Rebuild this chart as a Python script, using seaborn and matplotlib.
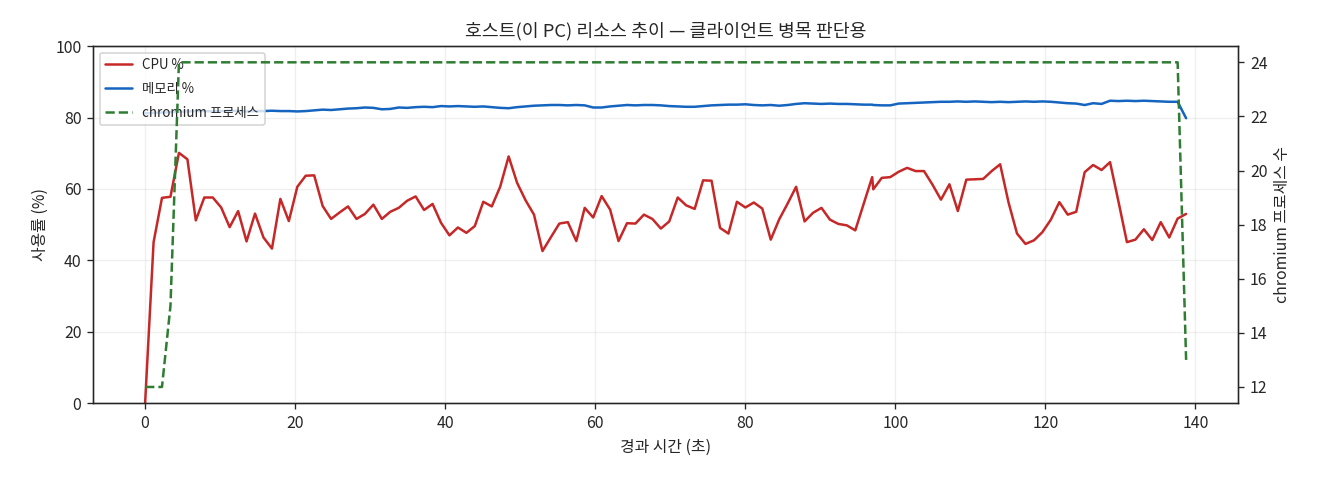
import matplotlib
matplotlib.use("Agg")
import matplotlib.pyplot as plt
import seaborn as sns

# 경과 시간 (초)
elapsed_s = [
    0.00, 1.13, 2.25, 3.38, 4.51, 5.64, 6.76, 7.89, 9.02, 10.14,
    11.27, 12.40, 13.52, 14.65, 15.78, 16.91, 18.03, 19.16, 20.29, 21.41,
    22.54, 23.67, 24.79, 25.92, 27.05, 28.18, 29.30, 30.43, 31.56, 32.68,
    33.81, 34.94, 36.06, 37.19, 38.32, 39.45, 40.57, 41.70, 42.83, 43.95,
    45.08, 46.21, 47.33, 48.46, 49.59, 50.72, 51.84, 52.97, 54.10, 55.22,
    56.35, 57.48, 58.60, 59.73, 60.86, 61.99, 63.11, 64.24, 65.37, 66.49,
    67.62, 68.75, 69.87, 71.00, 72.13, 73.26, 74.38, 75.51, 76.64, 77.76,
    78.89, 80.02, 81.14, 82.27, 83.40, 84.53, 85.65, 86.78, 87.91, 89.03,
    90.16, 91.29, 92.41, 93.54, 94.67, 95.80, 96.92, 97.07, 98.20, 99.33,
    100.45, 101.58, 102.71, 103.83, 104.96, 106.09, 107.22, 108.34, 109.47, 110.60,
    111.72, 112.85, 113.98, 115.10, 116.23, 117.36, 118.49, 119.61, 120.74, 121.87,
    122.99, 124.12, 125.25, 126.37, 127.50, 128.63, 129.76, 130.88, 132.01, 133.14,
    134.26, 135.39, 136.52, 137.64, 138.77,
]

cpu_pct = [
    0.0, 45.1, 57.5, 57.8, 70.1, 68.3, 51.2, 57.6, 57.6, 54.8,
    49.3, 53.8, 45.3, 53.1, 46.4, 43.3, 57.2, 51.0, 60.6, 63.7,
    63.8, 55.2, 51.6, 53.4, 55.1, 51.6, 53.0, 55.6, 51.6, 53.6,
    54.7, 56.7, 57.9, 54.1, 55.8, 50.5, 47.0, 49.2, 47.7, 49.6,
    56.4, 55.1, 60.6, 69.1, 61.7, 56.8, 52.8, 42.6, 46.5, 50.3,
    50.7, 45.4, 54.7, 52.0, 58.0, 54.2, 45.4, 50.4, 50.3, 52.8,
    51.6, 48.9, 50.9, 57.6, 55.4, 54.4, 62.4, 62.3, 49.1, 47.5,
    56.4, 54.8, 56.2, 54.5, 45.8, 51.5, 55.9, 60.6, 50.9, 53.3,
    54.7, 51.4, 50.2, 49.8, 48.4, 55.9, 63.3, 59.9, 63.1, 63.3,
    64.8, 65.9, 65.0, 65.0, 61.2, 57.0, 61.3, 53.8, 62.6, 62.7,
    62.8, 65.0, 66.9, 56.2, 47.5, 44.6, 45.6, 47.9, 51.4, 56.3,
    52.8, 53.6, 64.7, 66.7, 65.3, 67.5, 56.4, 45.1, 45.8, 48.7,
    45.7, 50.7, 46.4, 51.7, 53.0,
]

mem_pct = [
    81.2, 81.3, 81.4, 81.5, 81.6,
    81.7, 81.8, 81.8, 81.7, 81.8, 81.9, 81.8, 81.7, 81.8, 81.8, 81.9, 81.8, 81.8,
    81.7, 81.8, 82.0, 82.2, 82.1,
    82.3, 82.5, 82.6, 82.8, 82.7,
    82.3, 82.4,
    82.8, 82.7, 82.9, 83.0, 82.9, 83.2,
    83.1, 83.2, 83.1, 83.0, 83.1, 82.9,
    82.7, 82.6, 82.9,
    83.1, 83.3, 83.4, 83.5, 83.5, 83.4, 83.5, 83.4,
    82.8, 82.8, 83.1,
    83.3, 83.5, 83.4, 83.5, 83.5,
    83.4, 83.2, 83.1, 83.0,
    83.0, 83.2, 83.4, 83.5, 83.6, 83.6,
    83.7, 83.5, 83.4, 83.5,
    83.3, 83.5, 83.8, 84.0,
    83.9, 83.8, 83.9, 83.8, 83.8, 83.7, 83.6, 83.6,
    83.5, 83.4, 83.4,
    83.9, 84.0, 84.1, 84.2, 84.3, 84.4,
    84.4, 84.5, 84.4, 84.5, 84.4, 84.3, 84.4, 84.3, 84.4, 84.5, 84.4,
    84.5, 84.4, 84.2, 84.0, 83.9,
    83.5, 84.0, 83.8, 84.7,
    84.6, 84.7, 84.6, 84.7, 84.6, 84.5, 84.4,
    84.4,
    79.8,
]

chromium_procs = [12, 12, 12, 15] + [24] * 120 + [13]

sns.set_style("ticks")
plt.rcParams['font.family'] = ['Noto Sans CJK KR', 'DejaVu Sans']
plt.rcParams['axes.unicode_minus'] = False

fig, ax = plt.subplots(figsize=(11, 4), dpi=120)
fig.subplots_adjust(left=0.0705, right=0.938, top=0.904, bottom=0.16)

sns.lineplot(x=elapsed_s, y=cpu_pct, ax=ax, color="#c62828", linewidth=1.5, label="CPU %")
sns.lineplot(x=elapsed_s, y=mem_pct, ax=ax, color="#1565c0", linewidth=1.5, label="메모리 %")
ax.set_ylim(0, 100)
ax.set_xlabel("경과 시간 (초)", fontsize=9.5)
ax.set_ylabel("사용률 (%)", fontsize=9.5)
ax.tick_params(labelsize=9.5)
ax.grid(alpha=0.3)

ax2 = ax.twinx()
sns.lineplot(x=elapsed_s, y=chromium_procs, ax=ax2, color="#2e7d32", linewidth=1.5,
             linestyle="--", label="chromium 프로세스")
ax2.set_ylabel("chromium 프로세스 수", fontsize=9.5)
ax2.set_yticks([12, 14, 16, 18, 20, 22, 24])
ax2.tick_params(labelsize=9.5)

h1, l1 = ax.get_legend_handles_labels()
h2, l2 = ax2.get_legend_handles_labels()
ax2.get_legend().remove()
ax.legend(h1 + h2, l1 + l2, loc="upper left", fontsize=8, labelspacing=0.75)

ax.set_title("호스트(이 PC) 리소스 추이 — 클라이언트 병목 판단용", fontsize=11)
fig.savefig("out.png")
